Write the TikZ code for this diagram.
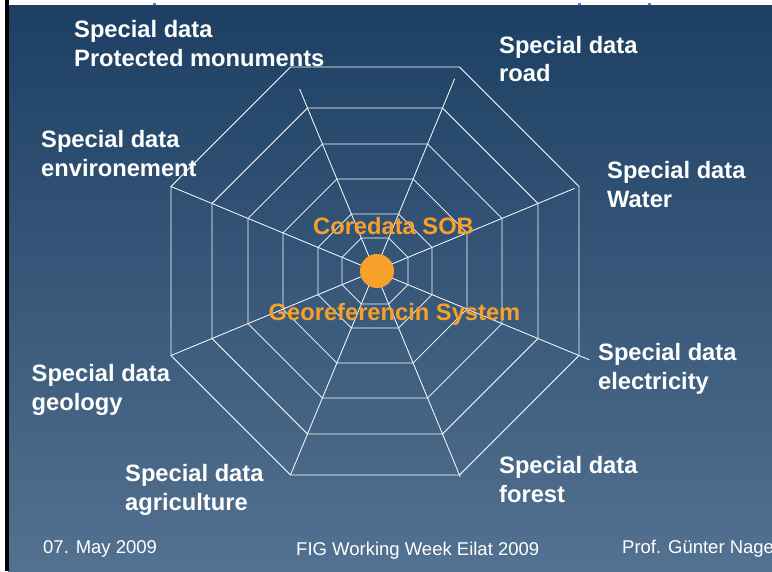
\documentclass[tikz,border=0pt]{standalone}
\usepackage{fontspec}
\setmainfont{Liberation Sans}
\definecolor{slidetop}{HTML}{1C3F63}
\definecolor{slidebot}{HTML}{537190}
\definecolor{coreorange}{HTML}{F7A12B}
\definecolor{titleblue}{HTML}{6F6FF5}

\begin{document}
\begin{tikzpicture}
[x=1pt,y=-1pt,
 web/.style={draw=white,line width=0.8pt},
 special/.style={anchor=base west,inner sep=0,text=white,align=left,font=\fontsize{23.7}{28.5}\selectfont\bfseries},
 core/.style={anchor=base,inner sep=0,text=coreorange,font=\fontsize{23.7}{28.5}\selectfont\bfseries},
 foot/.style={anchor=base west,inner sep=0,text=white,font=\fontsize{18.5}{22}\selectfont}]
\useasboundingbox (0,0) rectangle (772,571);
% slide background
\fill[white] (0,0) rectangle (772,571);
\shade[top color=slidetop,bottom color=slidebot] (8,5) rectangle (772,571);
\fill[black] (5,0) rectangle (8.5,571);
\fill[titleblue] (153,3) rectangle (156,5);
\fill[titleblue] (578,3) rectangle (581,5);
\fill[titleblue] (648,3) rectangle (651,5);

% web
\coordinate (c) at (375,271);
\foreach \r in {35.7,61.7,99.6,137.5,176.4,220.8}
\draw[web] ([shift={(22.5:\r)}]c) \foreach \a in {67.5,112.5,...,337.5} {-- ([shift={(\a:\r)}]c)} -- cycle;
\foreach \a/\l in {-22.5/216,-67.5/208,-112.5/197,-157.5/221,157.5/221,112.5/221,67.5/223,22.5/232}
\draw[web] (c) -- ++(\a:\l);

\node[circle,fill=coreorange,minimum size=34,inner sep=0] (dot) at (377,271) {};
\node[core] (coredata) at (393.5,234) {Coredata SOB};
\node[core] (georef) at (394.5,320) {Georeferencin System};

% special data (base = last line)
\node[special] (monuments) at (74,66) {Special data\\Protected monuments};
\node[special] (road) at (499,81.5) {Special data\\road};
\node[special] (environ) at (41,176) {Special data\\environement};
\node[special] (water) at (607,207) {Special data\\Water};
\node[special] (electricity) at (598,389) {Special data\\electricity};
\node[special] (geology) at (31.5,410) {Special data\\geology};
\node[special] (agriculture) at (125,510) {Special data\\agriculture};
\node[special] (forest) at (499,502) {Special data\\forest};

% footer
\node[foot] (date) at (43,553) {07. May 2009};
\node[foot] (event) at (296,555.5) {FIG Working Week Eilat 2009};
\node[foot] (author) at (622,553) {Prof. Günter Nage};
\end{tikzpicture}
\end{document}
